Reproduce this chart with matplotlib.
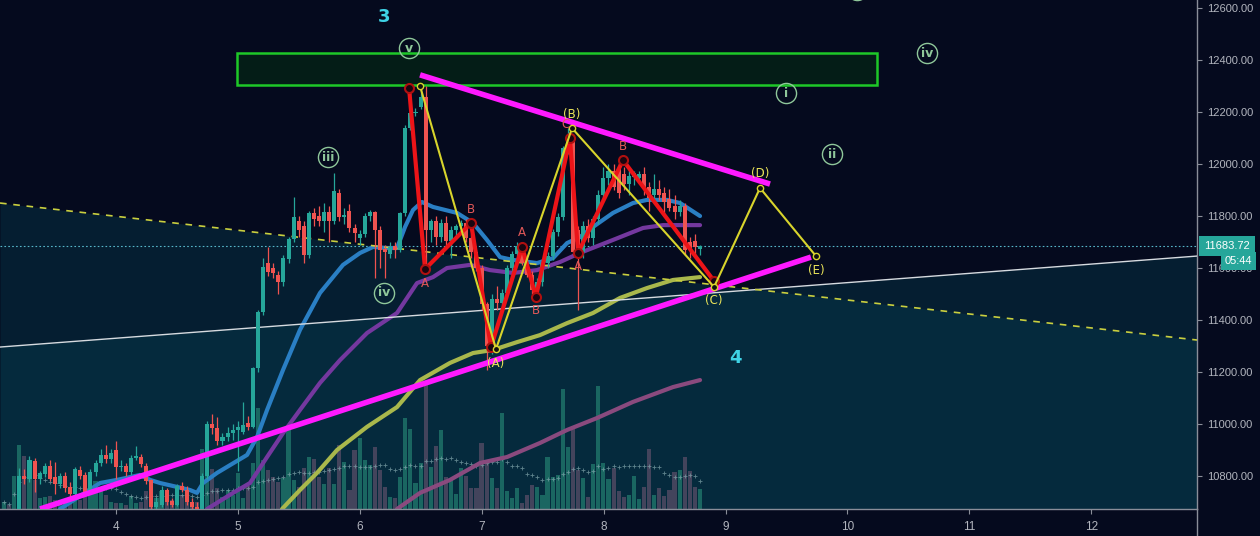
import matplotlib
matplotlib.use("Agg")
import matplotlib.pyplot as plt
import numpy as np
import pandas as pd
from matplotlib.transforms import blended_transform_factory
from matplotlib.patches import Rectangle
from matplotlib.lines import Line2D
from matplotlib.ticker import FormatStrFormatter

plt.rcParams['font.family'] = ['Liberation Sans', 'DejaVu Sans']

# ---------------- hourly candles (x axis = day of month) ----------------
LAST_DAY = 8.79
opens = [10630, 10645, 10640, 10668, 10800, 10790, 10858, 10790, 10808, 10840,
         10795, 10770, 10800, 10758, 10730, 10822, 10805, 10740, 10815, 10850,
         10880, 10865, 10900, 10835, 10840, 10815, 10870, 10872, 10840, 10785,
         10680, 10690, 10745, 10705, 10690, 10760, 10748, 10700, 10682, 10672,
         10800, 11000, 10985, 10935, 10950, 10965, 10975, 10970, 11005, 10990,
         11215, 11430, 11620, 11600, 11575, 11545, 11635, 11710, 11780, 11760,
         11650, 11810, 11800, 11780, 11815, 11780, 11890, 11795, 11820, 11755,
         11715, 11730, 11800, 11815, 11745, 11675, 11655, 11685, 11670, 11810,
         12140, 12195, 12220, 12258, 11746, 11780, 11720, 11775, 11705, 11745,
         11760, 11775, 11715, 11660, 11600, 11460, 11300, 11480, 11465, 11505,
         11600, 11655, 11685, 11620, 11575, 11515, 11545, 11620, 11645, 11740,
         11795, 12060, 12100, 11745, 11660, 11760, 11715, 11790, 11880, 11945,
         11975, 11985, 11960, 11925, 11950, 11945, 11960, 11910, 11880, 11905,
         11890, 11865, 11840, 11815, 11840, 11700, 11705, 11672]
highs = [10660, 10665, 10672, 10830, 10825, 10875, 10870, 10820, 10850, 10860,
         10854, 10810, 10815, 10775, 10835, 10840, 10815, 10825, 10860, 10905,
         10920, 10905, 10935, 10860, 10850, 10880, 10915, 10885, 10850, 10790,
         10720, 10760, 10755, 10715, 10770, 10775, 10760, 10715, 10700, 10810,
         11010, 11040, 11025, 10965, 10990, 11000, 11010, 11085, 11030, 11220,
         11440, 11640, 11680, 11620, 11590, 11650, 11720, 11873, 11800, 11780,
         11820, 11830, 11840, 11850, 11840, 11965, 11905, 11830, 11845, 11770,
         11745, 11810, 11825, 11820, 11760, 11690, 11700, 11700, 11815, 12150,
         12292, 12215, 12304, 12300, 11790, 11800, 11790, 11800, 11760, 11770,
         11785, 11790, 11730, 11670, 11610, 11470, 11500, 11530, 11520, 11610,
         11665, 11700, 11700, 11640, 11590, 11560, 11630, 11660, 11750, 11810,
         12070, 12140, 12115, 11760, 11780, 11790, 11800, 11900, 11990, 12000,
         12000, 12015, 11990, 11980, 11975, 11975, 11990, 11930, 11960, 11940,
         11910, 11905, 11880, 11860, 11850, 11720, 11730, 11690]
lows = [10600, 10620, 10625, 10660, 10770, 10775, 10740, 10770, 10795, 10780,
        10730, 10755, 10740, 10715, 10725, 10790, 10725, 10730, 10800, 10840,
        10850, 10850, 10790, 10820, 10800, 10805, 10860, 10835, 10770, 10670,
        10660, 10680, 10690, 10680, 10685, 10740, 10690, 10670, 10660, 10665,
        10790, 10960, 10920, 10920, 10935, 10940, 10820, 10960, 10975, 10985,
        11200, 11420, 11570, 11560, 11500, 11530, 11620, 11700, 11720, 11620,
        11640, 11760, 11760, 11740, 11700, 11770, 11780, 11770, 11740, 11700,
        11690, 11720, 11780, 11560, 11600, 11560, 11640, 11640, 11660, 11800,
        12130, 12185, 12210, 11596, 11700, 11690, 11700, 11690, 11640, 11710,
        11740, 11700, 11640, 11590, 11440, 11208, 11270, 11440, 11450, 11495,
        11585, 11640, 11610, 11565, 11500, 11480, 11530, 11600, 11630, 11725,
        11785, 12040, 11650, 11440, 11640, 11700, 11690, 11770, 11860, 11920,
        11900, 11870, 11900, 11880, 11920, 11930, 11880, 11820, 11860, 11860,
        11800, 11820, 11790, 11800, 11650, 11640, 11650, 11650]
closes = [10645, 10640, 10668, 10800, 10790, 10860, 10790, 10810, 10840, 10790,
          10770, 10800, 10755, 10730, 10825, 10800, 10740, 10815, 10850, 10880,
          10865, 10890, 10835, 10840, 10815, 10870, 10875, 10845, 10780, 10680,
          10700, 10745, 10700, 10690, 10760, 10745, 10700, 10680, 10672, 10800,
          11000, 10985, 10935, 10950, 10965, 10975, 10990, 10998, 10990, 11215,
          11430, 11605, 11585, 11580, 11545, 11640, 11710, 11795, 11745, 11650,
          11810, 11790, 11780, 11815, 11780, 11895, 11795, 11805, 11755, 11735,
          11730, 11800, 11815, 11745, 11670, 11660, 11680, 11670, 11810, 12140,
          12195, 12200, 12258, 11746, 11780, 11720, 11775, 11705, 11745, 11760,
          11775, 11715, 11660, 11600, 11460, 11300, 11480, 11465, 11505, 11600,
          11655, 11685, 11620, 11575, 11515, 11545, 11620, 11645, 11740, 11795,
          12060, 12100, 11660, 11660, 11760, 11715, 11790, 11880, 11945, 11975,
          11910, 11890, 11925, 11955, 11965, 11960, 11905, 11870, 11905, 11880,
          11855, 11830, 11815, 11840, 11670, 11670, 11680, 11683.72]
volume = [70, 40, 330, 640, 530, 490, 290, 110, 120, 130,
          90, 80, 80, 120, 140, 90, 180, 180, 280, 180,
          140, 70, 60, 60, 40, 130, 60, 70, 180, 290,
          110, 180, 180, 90, 180, 140, 90, 60, 70, 600,
          530, 400, 210, 120, 190, 140, 360, 110, 230, 460,
          1010, 490, 390, 320, 270, 310, 800, 290, 220, 410,
          520, 500, 320, 250, 410, 250, 640, 470, 190, 590,
          710, 490, 440, 620, 390, 220, 120, 110, 320, 910,
          800, 260, 460, 1240, 420, 630, 790, 320, 310, 150,
          410, 330, 210, 210, 660, 460, 310, 210, 960, 180,
          110, 210, 60, 140, 240, 220, 140, 520, 320, 340,
          1200, 620, 830, 390, 310, 120, 450, 1230, 460, 300,
          410, 180, 120, 140, 330, 100, 220, 600, 140, 210,
          130, 190, 370, 390, 520, 380, 220, 200]
VOL_TOP = 5090  # volume value reaching the top of the pane

# moving averages (sampled values)
ma_fast_days = [3.541, 3.869, 4.008, 4.197, 4.279, 4.361, 4.500, 4.607, 4.664, 4.714,
                4.829, 5.075, 5.157, 5.239, 5.370, 5.509, 5.673, 5.862, 6.002, 6.108,
                6.223, 6.305, 6.371, 6.436, 6.510, 6.600, 6.797, 6.929, 7.043, 7.150,
                7.257, 7.454, 7.585, 7.700, 7.806, 7.913, 8.077, 8.241, 8.356, 8.520,
                8.627, 8.791]
ma_fast = [10673, 10773, 10785, 10804, 10785, 10773, 10758, 10746, 10735, 10773,
           10812, 10881, 10950, 11054, 11208, 11362, 11504, 11612, 11658, 11681,
           11677, 11677, 11758, 11823, 11854, 11835, 11812, 11773, 11708, 11642,
           11631, 11619, 11638, 11696, 11719, 11758, 11812, 11850, 11862, 11862,
           11850, 11800]
ma_mid_days = [4.747, 4.960, 5.099, 5.239, 5.370, 5.509, 5.673, 5.838, 6.059, 6.305,
               6.469, 6.600, 6.715, 6.904, 7.068, 7.257, 7.454, 7.642, 7.806, 8.077,
               8.323, 8.487, 8.791]
ma_mid = [10673, 10735, 10773, 10873, 10965, 11054, 11158, 11246, 11350, 11427,
          11542, 11565, 11600, 11612, 11592, 11581, 11592, 11623, 11658, 11708,
          11754, 11765, 11765]
ma_slow_days = [5.362, 5.509, 5.649, 5.813, 6.059, 6.305, 6.494, 6.740, 6.929, 7.093,
                7.290, 7.478, 7.700, 7.913, 8.135, 8.356, 8.569, 8.791]
ma_slow = [10673, 10746, 10812, 10900, 10989, 11065, 11169, 11235, 11273, 11285,
           11315, 11342, 11388, 11427, 11485, 11523, 11554, 11565]
ma_long_days = [6.305, 6.494, 6.740, 6.986, 7.208, 7.478, 7.700, 7.946, 8.241, 8.569, 8.791]
ma_long = [10673, 10735, 10785, 10850, 10873, 10927, 10977, 11023, 11085, 11142, 11169]

# drawing tools
guide_days = [3.048, 12.868]
white_trend = [11296, 11646]
dashed_trend = [11850, 11323]
wedge_top_days = [6.494, 9.365]
wedge_top = [12343, 11923]
wedge_bottom_days = [3.377, 9.701]
wedge_bottom = [10673, 11642]
zone_days = [4.993, 10.243]
zone_prices = [12304, 12427]

# yellow (A)-(E) triangle path
tri_days = [6.494, 7.117, 7.741, 8.906, 9.283, 9.742]
tri_prices = [12300, 11288, 12138, 11527, 11908, 11646]
tri_labels = ['', '(A)', '(B)', '(C)', '(D)', '(E)']
tri_side = [0, -1, 1, -1, 1, -1]

# red sub-wave path
sub_days = [6.404, 6.535, 6.912, 7.076, 7.331, 7.445, 7.724, 7.790, 8.159, 8.906]
sub_prices = [12292, 11596, 11773, 11296, 11681, 11489, 12100, 11658, 12015, 11550]
sub_labels = ['', 'A', 'B', '', 'A', 'B', 'C', 'A', 'B', '']
sub_side = [0, -1, 1, 0, 1, -1, 1, -1, 1, 0]
sub_shift = [0, 0, 0, 0, 0, 0, -4, 0, 0, 0]

# circled wave counts
roman_labels = ['v', 'iii', 'iv', 'i', 'ii', 'iv', 'iii']
roman_days = [6.404, 5.739, 6.199, 9.496, 9.874, 10.653, 10.079]
roman_prices = [12446, 12027, 11504, 12273, 12038, 12427, 12669]

degree_labels = ['3', '4']
degree_days = [6.199, 9.078]
degree_prices = [12565, 11254]

LAST_PRICE = closes[-1]
PRICE_TICKS = list(range(10800, 12601, 200))
DAY_TICKS = list(range(4, 13))

# ---------------- figure ----------------
BG = '#050a1e'
UP, DOWN = '#26a69a', '#ef5350'
AXC = '#8a8e99'
TXT = '#b2b5be'

fig = plt.figure(figsize=(12.6, 5.36), dpi=100, facecolor=BG)
ax = fig.add_axes([0, 27 / 536, 1197 / 1260, 509 / 536])
ax.set_facecolor(BG)
YLO, YHI = 10673, 12631

n = len(closes)
t = LAST_DAY - (n - 1 - np.arange(n)) / 24.0
o, h, l, c = map(np.asarray, (opens, highs, lows, closes))
up = c >= o
cols = np.where(up, UP, DOWN)

# shaded channel regions
FILL = '#053e50'
ax.fill_between(guide_days, dashed_trend, YLO - 500, color=FILL, alpha=0.4, lw=0, zorder=0.5)
ax.fill_between(guide_days, white_trend, YLO - 500, color=FILL, alpha=0.4, lw=0, zorder=0.5)

# volume pane
vtrans = blended_transform_factory(ax.transData, ax.transAxes)
vcols = np.where(up, '#1d6d66', '#4b4860')
ax.bar(t, np.asarray(volume) / VOL_TOP, width=0.034, bottom=0, color=vcols,
       transform=vtrans, zorder=1.5, lw=0, alpha=0.9)
vma = pd.Series(volume, dtype=float).rolling(20, min_periods=1).mean()
ax.plot(t, vma / VOL_TOP, transform=vtrans, ls='none', marker='+', ms=2.6,
        mew=0.6, color='#86aab0', alpha=0.7, zorder=1.6)

# last price line
ax.axhline(LAST_PRICE, color='#56b6c9', lw=0.8, ls=(0, (1.5, 2)), zorder=1)

# moving averages
ax.plot(ma_long_days, ma_long, color='#8a4a7e', lw=3, zorder=2, solid_capstyle='round')
ax.plot(ma_slow_days, ma_slow, color='#a9b84c', lw=3, zorder=2, solid_capstyle='round')
ax.plot(ma_mid_days, ma_mid, color='#74389f', lw=3, zorder=2, solid_capstyle='round')
ax.plot(ma_fast_days, ma_fast, color='#2a7fc4', lw=3, zorder=2, solid_capstyle='round')

# resistance zone
ax.add_patch(Rectangle((zone_days[0], zone_prices[0]), zone_days[1] - zone_days[0],
                       zone_prices[1] - zone_prices[0], fc='#041d17', ec='#1ec828',
                       lw=1.8, zorder=2.5))

# trend lines
ax.plot(guide_days, white_trend, color='#d6dbe0', lw=1, zorder=2.6)
ax.plot(guide_days, dashed_trend, color='#c9cf3f', lw=1.2, ls=(0, (4, 4)), zorder=2.6)

# candles
ax.vlines(t, l, h, colors=cols, lw=0.9, zorder=3)
ax.bar(t, np.maximum(np.abs(c - o), 3), bottom=np.minimum(o, c), width=0.033,
       color=cols, lw=0, zorder=3.1)

# contracting triangle borders
ax.plot(wedge_top_days, wedge_top, color='#ff19ff', lw=4, zorder=4, solid_capstyle='butt')
ax.plot(wedge_bottom_days, wedge_bottom, color='#ff19ff', lw=4, zorder=4, solid_capstyle='butt')

# red sub-waves
ax.plot(sub_days, sub_prices, color='#ec1418', lw=3, zorder=5, marker='o', ms=6.5,
        mfc='#1a0610', mec='#b01010', mew=1.5)
for d, p, s, side, dx in zip(sub_days, sub_prices, sub_labels, sub_side, sub_shift):
    if s:
        ax.annotate(s, (d, p), xytext=(dx, 14 * side), textcoords='offset pixels',
                    ha='center', va='center', color='#e25858', fontsize=8.5,
                    family='DejaVu Sans', zorder=7)

# yellow triangle path
ax.plot(tri_days, tri_prices, color='#d8d42c', lw=1.5, zorder=6, marker='o', ms=4.5,
        mfc='#101010', mec='#d8d42c', mew=1)
for d, p, s, side in zip(tri_days, tri_prices, tri_labels, tri_side):
    if s:
        ax.annotate(s, (d, p), xytext=(0, 14 * side), textcoords='offset pixels',
                    ha='center', va='center', color='#ece65a', fontsize=8.5,
                    family='DejaVu Sans', zorder=7)

# circled wave counts
for s, d, p in zip(roman_labels, roman_days, roman_prices):
    ax.plot([d], [p], marker='o', ms=14.5, mfc='none', mec='#8fc79a', mew=1, zorder=7)
    ax.text(d, p, s, ha='center', va='center', color='#8fc79a', fontsize=9,
            fontweight='bold', family='DejaVu Sans', zorder=7, clip_on=True)

for s, d, p in zip(degree_labels, degree_days, degree_prices):
    ax.text(d, p, s, ha='center', va='center', color='#3fd3e6', fontsize=13,
            fontweight='bold', family='DejaVu Sans', zorder=7)

# axes styling
ax.set_xlim(guide_days[0], guide_days[1])
ax.set_ylim(YLO, YHI)
for side in ('top', 'left'):
    ax.spines[side].set_visible(False)
for side in ('right', 'bottom'):
    ax.spines[side].set_color(AXC)
    ax.spines[side].set_linewidth(1)
ax.yaxis.tick_right()
ax.set_yticks(PRICE_TICKS)
ax.yaxis.set_major_formatter(FormatStrFormatter('%.2f'))
ax.set_xticks(DAY_TICKS)
ax.set_xticklabels([str(d) for d in DAY_TICKS])
ax.tick_params(axis='y', colors=AXC, labelcolor=TXT, labelsize=8, length=3.5, pad=4)
ax.tick_params(axis='x', colors=AXC, labelcolor=TXT, labelsize=8.5, length=3.5, pad=5)
fig.add_artist(Line2D([1197 / 1260, 1197 / 1260], [0, 27 / 536], color=AXC, lw=1,
                      transform=fig.transFigure))

# last price tag and countdown
ptrans = blended_transform_factory(ax.transAxes, ax.transData)
ax.annotate(f'{LAST_PRICE:.2f}', (1, LAST_PRICE), xycoords=ptrans, xytext=(7, 0),
            textcoords='offset pixels', ha='left', va='center', color='white',
            fontsize=8, annotation_clip=False, zorder=10,
            bbox=dict(boxstyle='square,pad=0.45', fc='#26a69a', ec='none'))
ax.annotate('05:44', (1, LAST_PRICE), xycoords=ptrans, xytext=(28, -15),
            textcoords='offset pixels', ha='left', va='center', color='white',
            fontsize=8, annotation_clip=False, zorder=10,
            bbox=dict(boxstyle='square,pad=0.35', fc='#26a69a', ec='none'))

fig.savefig('out.png', dpi=100, facecolor=BG)
